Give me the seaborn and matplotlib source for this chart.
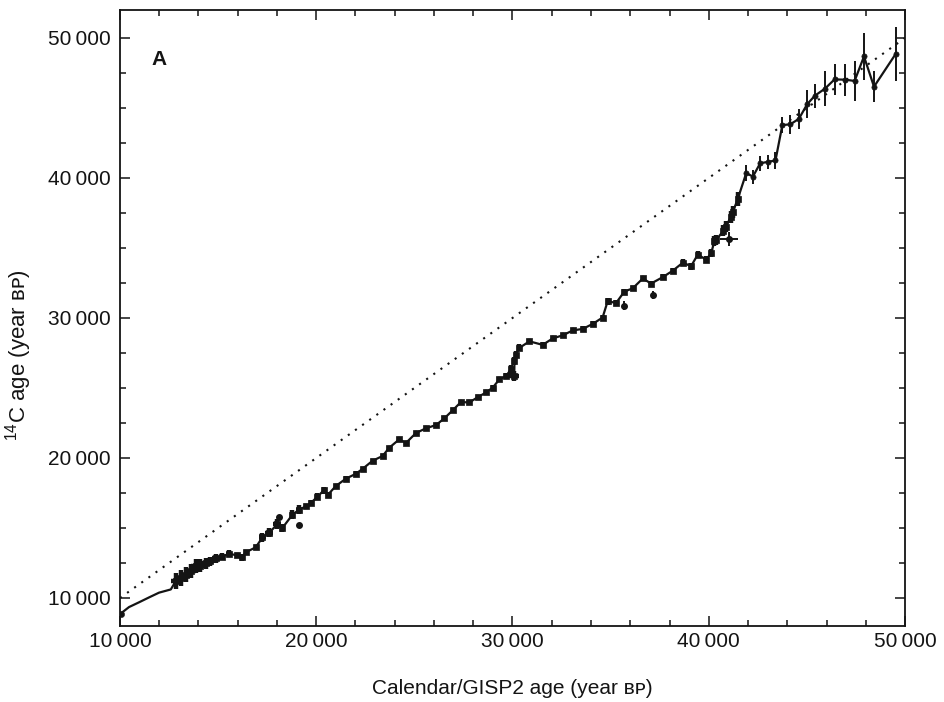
import matplotlib
matplotlib.use("Agg")
import matplotlib.pyplot as plt
import seaborn as sns
import numpy as np
from matplotlib.ticker import MultipleLocator, FuncFormatter

# ---- data ----
# densely sampled part: calendar age, 14C age, 14C error
cal_dense = [10030, 10460, 10970, 11480, 11990, 12590, 12840, 13100, 13350, 13600,
             13860, 14100, 14370, 14600, 14880, 15200, 15560, 15980, 16230, 16400,
             16910, 17260, 17600, 18020, 18280, 18790, 19130, 19470, 19720, 20060,
             20400, 20580, 21000, 21510, 22020, 22360, 22870, 23380, 23720, 24230,
             24570, 25080, 25590, 26100, 26520, 26950, 27370, 27800, 28220, 28650,
             28990, 29330, 29670, 29920, 30090, 30100, 30180, 30350, 30860, 31540,
             32050, 32560, 33070, 33580, 34080, 34590, 34850, 35280, 35700, 36120,
             36640, 37060, 37650, 38170, 38680, 39100, 39440, 39870, 40120, 40290,
             40380, 40750, 40890, 41110, 41230, 41480]
c14_dense = [8880, 9350, 9690, 10040, 10380, 10610, 11200, 11420, 11660, 11920,
             12250, 12310, 12470, 12610, 12820, 12950, 13160, 13040, 12920, 13260,
             13610, 14320, 14670, 15260, 15010, 15950, 16310, 16540, 16780, 17230,
             17710, 17350, 18000, 18520, 18870, 19220, 19800, 20140, 20730, 21330,
             21070, 21780, 22120, 22350, 22820, 23400, 23990, 23970, 24330, 24680,
             25020, 25610, 25850, 26330, 25880, 26920, 27390, 27860, 28330, 28080,
             28540, 28760, 29110, 29220, 29570, 30030, 31200, 31070, 31890, 32110,
             32820, 32460, 32910, 33380, 33950, 33700, 34530, 34160, 34630, 35470,
             35580, 36230, 36510, 37220, 37570, 38510]
err_dense = [0, 0, 0, 0, 0, 0, 550, 550, 550, 500,
             500, 450, 420, 350, 300, 250, 250, 200, 250, 200,
             200, 350, 350, 350, 300, 300, 300, 200, 200, 250,
             250, 200, 150, 200, 200, 150, 150, 150, 150, 150,
             150, 150, 150, 150, 150, 150, 150, 150, 150, 150,
             200, 200, 200, 300, 350, 300, 250, 250, 200, 200,
             200, 200, 200, 200, 200, 200, 250, 200, 200, 200,
             200, 200, 200, 200, 250, 250, 250, 250, 300, 350,
             350, 400, 400, 450, 450, 500]
xerr_dense = [0, 0, 0, 0, 0, 0, 250, 250, 250, 250,
              250, 250, 250, 200, 200, 150, 150, 100, 100, 100,
              100, 200, 200, 200, 150, 150, 150, 80, 80, 80,
              80, 80, 60, 60, 60, 60, 60, 60, 60, 60,
              60, 60, 60, 60, 60, 60, 60, 60, 60, 60,
              80, 80, 80, 120, 250, 100, 80, 80, 60, 60,
              60, 60, 60, 60, 60, 60, 60, 60, 60, 60,
              60, 60, 60, 60, 60, 60, 60, 60, 80, 80,
              80, 100, 100, 100, 100, 100]

# older, sparsely sampled part with larger errors
cal_old = [41910, 42250, 42620, 43010, 43400, 43750, 44150, 44590, 45020, 45410,
           45920, 46410, 46960, 47430, 47910, 48420, 49520]
c14_old = [40350, 40100, 41050, 41150, 41250, 43780, 43830, 44220, 45280, 45880,
           46380, 47040, 47020, 46930, 48680, 46520, 48850]
err_old = [600, 500, 550, 500, 600, 600, 700, 700, 1000, 850,
           1250, 1100, 1150, 1450, 1650, 1100, 1900]

# isolated points off the curve
cal_out = [18110, 19130, 35700, 37140, 41020]
c14_out = [15760, 15230, 30880, 31640, 35610]
err_out = [150, 150, 300, 300, 500]
xerr_out = [0, 0, 0, 0, 470]

# 1:1 reference line
ref_x = [10000, 50000]
ref_y = [10000, 50000]

x_ticks = [10000, 20000, 30000, 40000, 50000]
y_ticks = [10000, 20000, 30000, 40000, 50000]

# ---- style ----
sns.set_style("ticks")
plt.rcParams['font.family'] = ['Liberation Sans', 'DejaVu Sans']
plt.rcParams['mathtext.default'] = 'regular'

fig = plt.figure(figsize=(9.44, 7.02), dpi=100)
ax = fig.add_axes([0.1271, 0.1083, 0.8316, 0.8775])

ink = '#141414'

sns.lineplot(x=ref_x, y=ref_y, ax=ax, color=ink, lw=1.5,
             linestyle=(0, (1, 3.2)), sort=False)

# connecting line through all points
sns.lineplot(x=cal_dense + cal_old, y=c14_dense + c14_old, ax=ax, color=ink,
             lw=1.6, sort=False, zorder=4)

# first point marker
sns.scatterplot(x=cal_dense[:1], y=c14_dense[:1], ax=ax, color=ink,
                marker='o', s=20, edgecolor=ink, zorder=5)

# error boxes of the dense record (skip the smooth start)
n0 = 6
ax.errorbar(cal_dense[n0:], c14_dense[n0:], yerr=err_dense[n0:],
            xerr=xerr_dense[n0:], fmt='none', ecolor=ink,
            elinewidth=3.2, capsize=0, zorder=3)
sns.scatterplot(x=cal_dense[n0:], y=c14_dense[n0:], ax=ax, color=ink,
                marker='s', s=16, edgecolor=ink, linewidth=0.5, zorder=5)

# older points
ax.errorbar(cal_old, c14_old, yerr=err_old, fmt='none', ecolor=ink,
            elinewidth=1.4, capsize=0, zorder=3)
sns.scatterplot(x=cal_old, y=c14_old, ax=ax, color=ink, marker='o', s=14,
                edgecolor=ink, linewidth=0.5, zorder=5)

# isolated points
ax.errorbar(cal_out, c14_out, yerr=err_out, xerr=xerr_out, fmt='o',
            color=ink, ms=4, elinewidth=1.4, capsize=0, zorder=4)

ax.set_xlim(10000, 50000)
ax.set_ylim(8000, 52000)

fmt = FuncFormatter(lambda v, p: f"{int(v)//1000}\u2009{int(v)%1000:03d}")
ax.set_xticks(x_ticks)
ax.set_yticks(y_ticks)
ax.xaxis.set_major_formatter(fmt)
ax.yaxis.set_major_formatter(fmt)
ax.xaxis.set_minor_locator(MultipleLocator(2000))
ax.yaxis.set_minor_locator(MultipleLocator(2500))
ax.tick_params(which='both', direction='in', top=True, right=True,
               color=ink, width=1.1)
ax.tick_params(which='major', length=7, labelsize=15, labelcolor=ink)
ax.tick_params(axis='x', which='major', pad=4)
ax.tick_params(axis='y', which='major', pad=7)
ax.tick_params(which='minor', length=4.5)

for s in ax.spines.values():
    s.set_visible(True)
    s.set_color(ink)
    s.set_linewidth(1.3)

ax.set_xlabel("Calendar/GISP2 age (year \u0299\u1d18)", fontsize=15, color=ink)
ax.set_ylabel("$^{14}$C age (year \u0299\u1d18)", fontsize=16, color=ink)
ax.xaxis.set_label_coords(0.5, -0.086)
ax.yaxis.set_label_coords(-0.110, 0.44)

ax.text(0.0497, 0.920, "A", transform=ax.transAxes, ha='center', va='center',
        fontsize=15, fontweight='bold', color=ink)

fig.savefig("out.png", dpi=100, facecolor='white')
